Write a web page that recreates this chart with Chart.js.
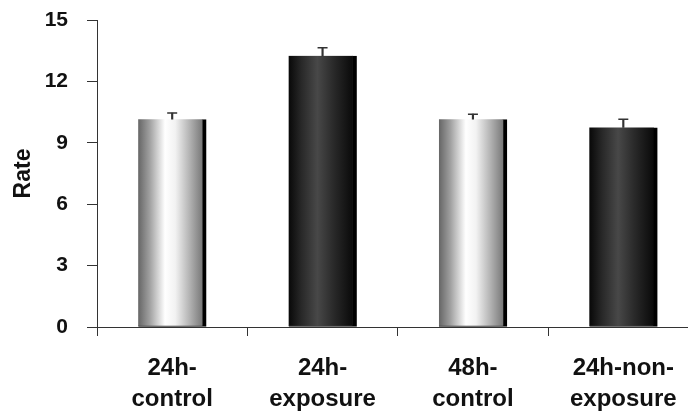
<!DOCTYPE html>
<html><head><meta charset="utf-8">
<script src="https://cdn.jsdelivr.net/npm/chart.js@4/dist/chart.umd.min.js"></script>
<style>
html,body{margin:0;padding:0;background:#fff;overflow:hidden;width:688px;height:417px}
#wrap{position:relative;width:705px;height:417px}
</style>
</head><body><div id="wrap"><canvas id="c"></canvas></div>
<script>
// ---- data ----
const categories = [['24h-','control'], ['24h-','exposure'], ['48h-','control'], ['24h-non-','exposure']];
const rates  = [10.15, 13.25, 10.15, 9.75];
const errors = [0.3, 0.4, 0.25, 0.4];
const yMin = 0, yMax = 15, yStep = 3;
const yTitle = 'Rate';

// ---- styling ----
const FONT = "'Liberation Sans', Arial, Helvetica, sans-serif";
const AXIS = '#333';
const BAR_W = 68;
const SHADOW = 4;

function isControl(i){ const s = categories[i].join(''); return s.indexOf('control') >= 0; }

function cylGrad(ctx){
  const chart = ctx.chart;
  const xs = chart.scales && chart.scales.x;
  if (!xs || ctx.dataIndex === undefined || !isFinite(xs.getPixelForValue(ctx.dataIndex))) return '#888';
  const cx = xs.getPixelForValue(ctx.dataIndex);
  const left = cx - BAR_W/2, right = cx + BAR_W/2 - SHADOW;
  const g = chart.ctx.createLinearGradient(left, 0, right, 0);
  if (isControl(ctx.dataIndex)) {
    g.addColorStop(0, '#666666');
    g.addColorStop(0.18, '#a0a0a0');
    g.addColorStop(0.42, '#ffffff');
    g.addColorStop(0.58, '#f2f2f2');
    g.addColorStop(0.8, '#b4b4b4');
    g.addColorStop(1, '#7a7a7a');
  } else {
    g.addColorStop(0, '#080808');
    g.addColorStop(0.2, '#282828');
    g.addColorStop(0.45, '#484848');
    g.addColorStop(0.7, '#2a2a2a');
    g.addColorStop(1, '#0a0a0a');
  }
  return g;
}

new Chart(document.getElementById('c'), {
  type: 'bar',
  data: {
    labels: categories,
    datasets: [
      {
        type: 'line',
        data: rates.map((v, i) => v + errors[i]),
        showLine: false,
        pointStyle: 'line',
        pointRadius: 5,
        pointHoverRadius: 5,
        borderColor: AXIS,
        borderWidth: 1.5,
        order: 0
      },
      {
        type: 'bar',
        data: rates.map((v, i) => [v, v + errors[i]]),
        backgroundColor: AXIS,
        barThickness: 1.5,
        grouped: false,
        borderWidth: 0,
        order: 1
      },
      {
        type: 'bar',
        data: rates,
        backgroundColor: cylGrad,
        borderColor: '#000',
        borderWidth: {top: 0, left: 0, right: SHADOW, bottom: 1},
        borderSkipped: false,
        barThickness: BAR_W,
        grouped: false,
        order: 2
      }
    ]
  },
  options: {
    responsive: true,
    maintainAspectRatio: false,
    animation: false,
    events: [],
    layout: {padding: {top: 20, right: 0, bottom: 0, left: 0}},
    plugins: {legend: {display: false}, tooltip: {enabled: false}},
    scales: {
      x: {
        offset: true,
        grid: {display: true, drawOnChartArea: false, offset: true, tickLength: 9, color: AXIS, lineWidth: 1},
        border: {display: true, color: AXIS, width: 1},
        ticks: {color: '#111', font: {family: FONT, size: 24, weight: 'bold', lineHeight: 1.3}, padding: 17, maxRotation: 0, autoSkip: false},
        afterFit: s => { s.height = 90; }
      },
      y: {
        min: yMin, max: yMax,
        grid: {display: true, drawOnChartArea: false, tickLength: 10, color: AXIS, lineWidth: 1},
        border: {display: true, color: AXIS, width: 1},
        ticks: {stepSize: yStep, color: '#111', font: {family: FONT, size: 21, weight: 'bold'}, padding: 19},
        title: {display: true, text: yTitle, color: '#111', font: {family: FONT, size: 23, weight: 'bold'}, padding: {top: 10, bottom: 0}},
        afterFit: s => { s.width = 97; s.paddingTop = 0; s.paddingBottom = 0; }
      }
    }
  }
});
</script>
</body></html>
